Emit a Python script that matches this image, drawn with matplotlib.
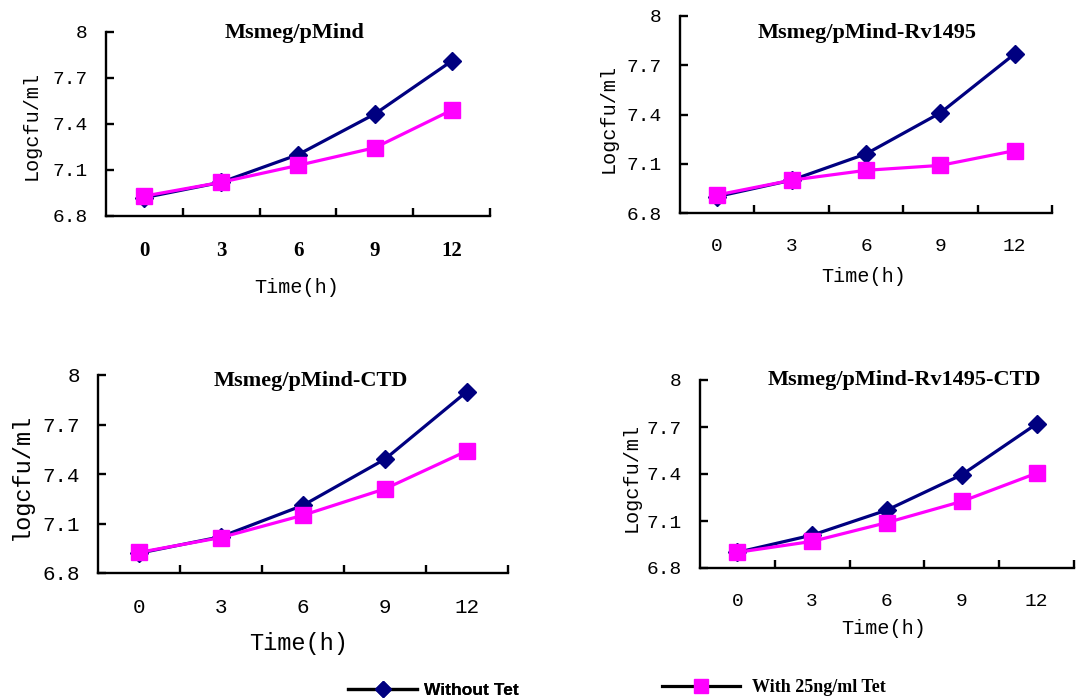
import matplotlib
matplotlib.use("Agg")
import matplotlib.pyplot as plt
from matplotlib.lines import Line2D

# time points (h) and log cfu/ml
times = ["0", "3", "6", "9", "12"]
y_ticks = [6.8, 7.1, 7.4, 7.7, 8.0]
y_tick_labels = ["6.8", "7.1", "7.4", "7.7", "8"]

titles = ["Msmeg/pMind", "Msmeg/pMind-Rv1495",
          "Msmeg/pMind-CTD", "Msmeg/pMind-Rv1495-CTD"]
ylabels = ["Logcfu/ml", "Logcfu/ml", "logcfu/ml", "Logcfu/ml"]

without_tet = [
    [6.92, 7.02, 7.20, 7.465, 7.81],
    [6.90, 7.00, 7.16, 7.41, 7.77],
    [6.92, 7.02, 7.21, 7.49, 7.90],
    [6.90, 7.01, 7.17, 7.395, 7.72],
]
with_tet = [
    [6.93, 7.02, 7.13, 7.245, 7.49],
    [6.91, 7.00, 7.06, 7.09, 7.18],
    [6.925, 7.015, 7.15, 7.31, 7.54],
    [6.90, 6.97, 7.09, 7.225, 7.405],
]

NAVY = "#000080"
PINK = "#ff00ff"
MONO = "Liberation Mono"
SERIF = "Liberation Serif"

W, H = 1087, 699
fig = plt.figure(figsize=(W / 100, H / 100), dpi=100)

# axes boxes in pixels: left, right, top, bottom
boxes = [(106, 490, 32, 216), (680, 1052, 16, 213),
         (98, 508, 375, 573), (700, 1074, 380, 568)]
# per panel: title pos, ylabel pos, xlabel pos (axes fractions), sizes
title_pos = [(0.49, 0.995), (0.503, 0.914), (0.52, 0.97), (0.547, 1.0)]
ylab_pos = [(-0.195, 0.49), (-0.194, 0.482), (-0.188, 0.49), (-0.184, 0.484)]
xlab_pos = [(0.497, -0.386), (0.495, -0.32), (0.49, -0.354), (0.49, -0.32)]
tick_fs = [14, 14, 15, 14]
lab_fs = [14.5, 14.5, 17, 14.5]

for i in range(4):
    l, r, t, b = boxes[i]
    ax = fig.add_axes([l / W, 1 - b / H, (r - l) / W, (b - t) / H])
    x = list(range(len(times)))
    ax.plot(x, without_tet[i], color=NAVY, lw=2.3, marker="D", ms=9.5,
            zorder=3)
    ax.plot(x, with_tet[i], color=PINK, lw=2.3, marker="s", ms=11,
            zorder=4)

    ax.set_xlim(-0.5, 4.5)
    ax.set_ylim(6.8, 8.0)
    for s in ["top", "right"]:
        ax.spines[s].set_visible(False)
    for s in ["left", "bottom"]:
        ax.spines[s].set_linewidth(1.7)

    # x: tick marks on category boundaries, labels on categories
    ax.set_xticks([0.5, 1.5, 2.5, 3.5, 4.5])
    ax.set_xticklabels([])
    ax.set_xticks(x, minor=True)
    if i == 0:
        ax.set_xticklabels(times, minor=True, fontfamily=SERIF,
                           fontweight="bold", fontsize=15)
    else:
        ax.set_xticklabels(times, minor=True, fontfamily=MONO,
                           fontsize=tick_fs[i])
    ax.tick_params(axis="x", which="major", direction="in", length=6,
                   width=1.7)
    ax.tick_params(axis="x", which="minor", length=0, pad=18)

    ax.set_yticks(y_ticks)
    ax.set_yticklabels(y_tick_labels, fontfamily=MONO, fontsize=tick_fs[i])
    ax.tick_params(axis="y", direction="in", length=6, width=1.7, pad=13)

    ax.text(title_pos[i][0], title_pos[i][1], titles[i],
            transform=ax.transAxes, ha="center", va="center",
            fontfamily=SERIF, fontweight="bold", fontsize=16)
    ax.set_ylabel(ylabels[i], fontfamily=MONO, fontsize=lab_fs[i])
    ax.yaxis.set_label_coords(*ylab_pos[i])
    ax.set_xlabel("Time(h)", fontfamily=MONO, fontsize=lab_fs[i])
    ax.xaxis.set_label_coords(*xlab_pos[i])
    ax.xaxis.label.set_va("center")
    ax.yaxis.label.set_va("center")

# legend at the bottom
h1 = Line2D([], [], color="black", lw=2.3, marker="D", ms=8,
            markerfacecolor=NAVY, markeredgecolor=NAVY)
h2 = Line2D([], [], color="black", lw=2.3, marker="s", ms=10,
            markerfacecolor=PINK, markeredgecolor=PINK)
leg1 = fig.legend([h1], ["Without Tet"], loc="center left",
                  bbox_to_anchor=(348 / W, 1 - 690 / H), frameon=False,
                  handlelength=4.0, handletextpad=0.4, borderpad=0,
                  borderaxespad=0, prop={"family": "Liberation Sans",
                                         "weight": "bold", "size": 12.5})
leg2 = fig.legend([h2], ["With 25ng/ml Tet"], loc="center left",
                  bbox_to_anchor=(662 / W, 1 - 688 / H), frameon=False,
                  handlelength=4.3, handletextpad=0.7, borderpad=0,
                  borderaxespad=0, prop={"family": SERIF,
                                         "weight": "bold", "size": 13})
fig.add_artist(leg1)

fig.savefig("out.png", dpi=100)
